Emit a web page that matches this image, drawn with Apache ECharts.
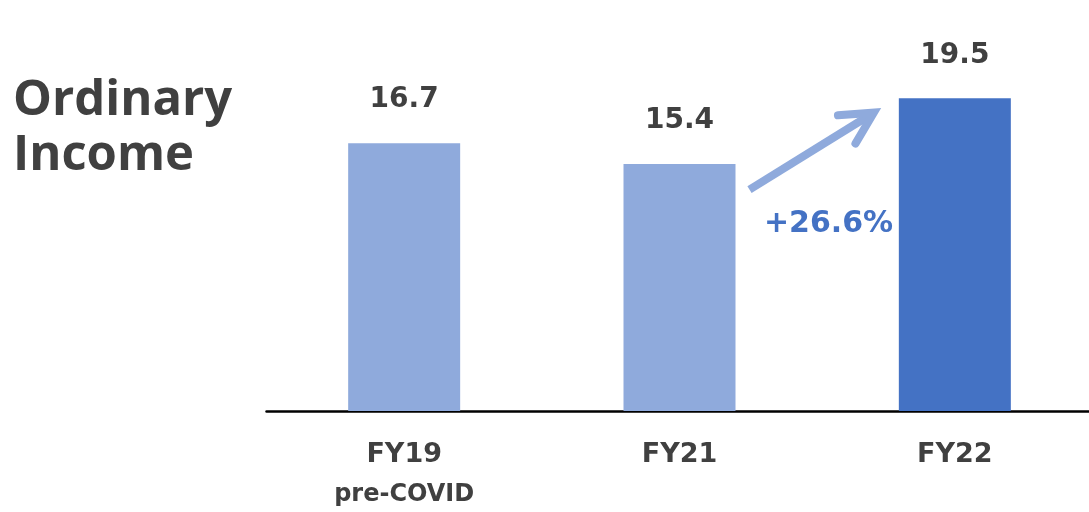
<!DOCTYPE html>
<html>
<head>
<meta charset="utf-8">
<script src="https://cdn.jsdelivr.net/npm/echarts@6/dist/echarts.min.js"></script>
<style>
  html, body { margin: 0; padding: 0; background: #fff; }
  #main { width: 1089px; height: 512px; }
</style>
</head>
<body>
<div id="main"></div>
<script>
// data
const categories = ['FY19', 'FY21', 'FY22'];
const subLabels = ['pre-COVID', '', ''];
const ordinaryIncome = [16.7, 15.4, 19.5];
const barColors = ['#8FAADC', '#8FAADC', '#4472C4'];
const growthText = '+26.6%';

const textColor = '#404040';
const numFont = 'DejaVu Sans';

var chart = echarts.init(document.getElementById('main'));

var option = {
  animation: false,
  backgroundColor: '#fff',
  title: {
    text: 'Ordinary\nIncome',
    left: 8,
    top: 69,
    textStyle: {
      fontFamily: 'Open Sans',
      fontWeight: 'bold',
      fontSize: 49,
      lineHeight: 55,
      color: textColor
    }
  },
  grid: {
    left: 266.5,
    top: 10,
    width: 826,
    height: 401,
    outerBoundsMode: 'none'
  },
  xAxis: {
    type: 'category',
    data: categories,
    axisTick: { show: false },
    axisLine: { lineStyle: { color: '#000', width: 2.5 } },
    axisLabel: {
      margin: 24,
      formatter: function (v, i) {
        let s = '{a|' + v + '}';
        if (subLabels[i]) s += '\n{b|' + subLabels[i] + '}';
        return s;
      },
      rich: {
        a: { fontFamily: numFont, fontWeight: 'bold', fontSize: 27, lineHeight: 40, color: textColor },
        b: { fontFamily: numFont, fontWeight: 'bold', fontSize: 24, lineHeight: 40, color: textColor }
      }
    }
  },
  yAxis: {
    type: 'value',
    min: 0,
    max: 25,
    show: false,
    splitLine: { show: false }
  },
  series: [{
    type: 'bar',
    barWidth: 112,
    data: ordinaryIncome.map(function (v, i) {
      return { value: v, itemStyle: { color: barColors[i] } };
    }),
    label: {
      show: true,
      position: 'top',
      distance: 29,
      fontFamily: numFont,
      fontWeight: 'bold',
      fontSize: 28,
      color: textColor,
      formatter: function (p) { return p.value.toFixed(1); }
    }
  }]
};

chart.setOption(option);

// growth arrow between FY21 and FY22, anchored on the grid scale
var p0 = chart.convertToPixel({ gridIndex: 0 }, [categories[1], 13.8]);
var p1 = chart.convertToPixel({ gridIndex: 0 }, [categories[2], 18.6]);
var x0 = p0[0] + 70, y0 = p0[1];
var x1 = p1[0] - 81, y1 = p1[1];
var ang = Math.atan2(y1 - y0, x1 - x0);
var armLen = 36, spread = 0.48;
var a1 = [x1 - armLen * Math.cos(ang - spread), y1 - armLen * Math.sin(ang - spread)];
var a2 = [x1 - armLen * Math.cos(ang + spread), y1 - armLen * Math.sin(ang + spread)];

chart.setOption({
  graphic: [
    {
      type: 'polyline',
      shape: { points: [[x0, y0], [x1 - 4 * Math.cos(ang), y1 - 4 * Math.sin(ang)]] },
      style: { stroke: '#8FAADC', lineWidth: 8, fill: null }
    },
    {
      type: 'polyline',
      shape: { points: [a1, [x1, y1], a2] },
      style: { stroke: '#8FAADC', lineWidth: 8, fill: null, lineCap: 'round', lineJoin: 'miter' }
    },
    {
      type: 'text',
      x: x0 + 79,
      y: y0 + 35,
      style: {
        text: growthText,
        fontFamily: numFont,
        fontWeight: 'bold',
        fontSize: 30,
        fill: '#4472C4',
        align: 'center',
        verticalAlign: 'middle'
      }
    }
  ]
});
</script>
</body>
</html>
